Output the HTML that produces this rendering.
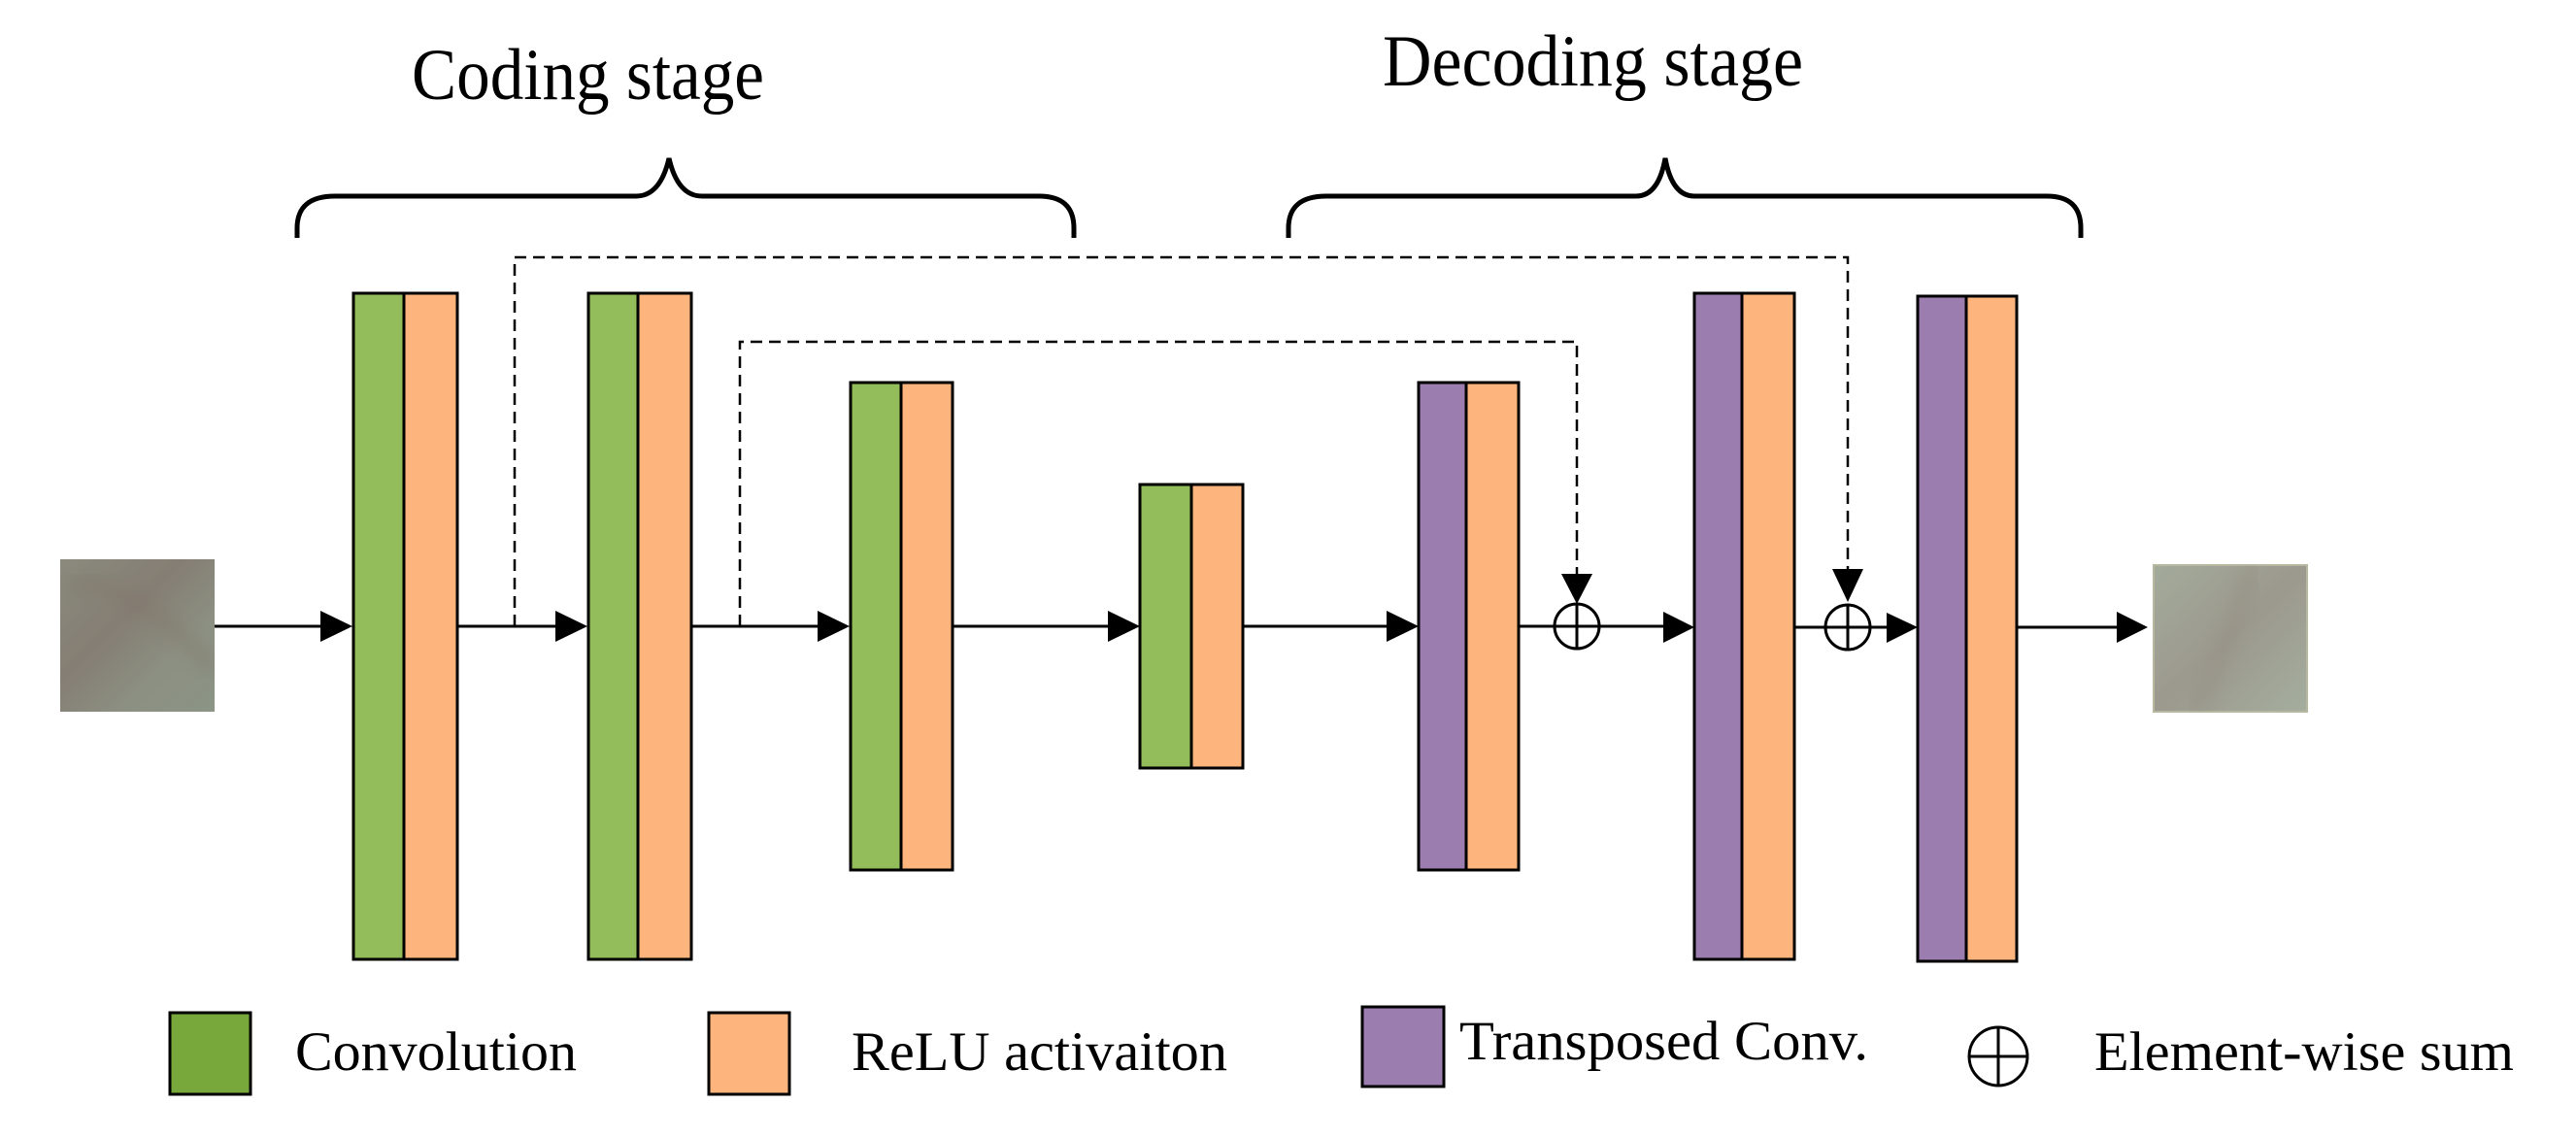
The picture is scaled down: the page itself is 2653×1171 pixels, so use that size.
<!DOCTYPE html>
<html><head><meta charset="utf-8"><style>
html,body{margin:0;padding:0;background:#fff;}
svg{display:block;}
text{font-family:"Liberation Serif",serif;fill:#000;}
</style></head><body>
<svg width="2653" height="1171" viewBox="0 0 2653 1171" xmlns="http://www.w3.org/2000/svg">
<defs>
<linearGradient id="gi" x1="0" y1="0" x2="1" y2="1">
<stop offset="0" stop-color="#8a8a7d"/><stop offset="0.4" stop-color="#857e74"/><stop offset="0.7" stop-color="#8c9082"/><stop offset="1" stop-color="#8b9485"/>
</linearGradient>
<linearGradient id="go" x1="0" y1="0" x2="1" y2="1">
<stop offset="0" stop-color="#a3ab9b"/><stop offset="0.5" stop-color="#9c998e"/><stop offset="1" stop-color="#a4ae9e"/>
</linearGradient>
<filter id="bl"><feGaussianBlur stdDeviation="8"/></filter>
<clipPath id="ci"><rect x="62" y="576" width="159" height="157"/></clipPath>
<clipPath id="co"><rect x="2218" y="582" width="158" height="151"/></clipPath>
</defs>

<text x="424" y="102" font-size="75" textLength="363" lengthAdjust="spacingAndGlyphs">Coding stage</text>
<text x="1424" y="88" font-size="75" textLength="433" lengthAdjust="spacingAndGlyphs">Decoding stage</text>

<g fill="none" stroke="#000" stroke-width="5">
<path d="M306 245 L306 235 Q306 202 345 202 L655 202 Q680 202 689 163 Q698 202 723 202 L1070 202 Q1106 202 1106 235 L1106 245"/>
<path d="M1327 245 L1327 235 Q1327 202 1366 202 L1685 202 Q1708 202 1715 163 Q1722 202 1745 202 L2108 202 Q2143 202 2143 235 L2143 245"/>
</g>

<g fill="none" stroke="#000" stroke-width="2.5" stroke-dasharray="12,7">
<path d="M530 645 L530 265 L1903 265 L1903 600"/>
<path d="M762 645 L762 352 L1624 352 L1624 600"/>
</g>
<polygon points="1608,591 1640,591 1624,622" fill="#000"/>
<polygon points="1887,586 1919,586 1903,620" fill="#000"/>

<g stroke="#000" stroke-width="3">
<line x1="221" y1="645" x2="340" y2="645"/>
<line x1="471" y1="645" x2="580" y2="645"/>
<line x1="712" y1="645" x2="850" y2="645"/>
<line x1="981" y1="645" x2="1150" y2="645"/>
<line x1="1280" y1="645" x2="1435" y2="645"/>
<line x1="1564" y1="645" x2="1720" y2="645"/>
<line x1="1848" y1="646" x2="1950" y2="646"/>
<line x1="2077" y1="646" x2="2185" y2="646"/>
</g>
<g fill="#000">
<polygon points="330,629 363,645 330,661"/>
<polygon points="572,629 605,645 572,661"/>
<polygon points="842,629 875,645 842,661"/>
<polygon points="1141,629 1174,645 1141,661"/>
<polygon points="1428,629 1461,645 1428,661"/>
<polygon points="1713,630 1745,646 1713,662"/>
<polygon points="1943,631 1975,646 1943,662"/>
<polygon points="2180,630 2212,646 2180,662"/>
</g>

<g fill="none" stroke="#000" stroke-width="3">
<circle cx="1624" cy="645" r="23"/>
<line x1="1624" y1="622" x2="1624" y2="668"/>
<circle cx="1903" cy="646" r="23"/>
<line x1="1903" y1="623" x2="1903" y2="669"/>
</g>

<g stroke="#000" stroke-width="3">
<rect x="364" y="302" width="52" height="686" fill="#92bd5a"/>
<rect x="416" y="302" width="55" height="686" fill="#fdb57d"/>
<rect x="606" y="302" width="51" height="686" fill="#92bd5a"/>
<rect x="657" y="302" width="55" height="686" fill="#fdb57d"/>
<rect x="876" y="394" width="52" height="502" fill="#92bd5a"/>
<rect x="928" y="394" width="53" height="502" fill="#fdb57d"/>
<rect x="1174" y="499" width="53" height="292" fill="#92bd5a"/>
<rect x="1227" y="499" width="53" height="292" fill="#fdb57d"/>
<rect x="1461" y="394" width="49" height="502" fill="#9b7db0"/>
<rect x="1510" y="394" width="54" height="502" fill="#fdb57d"/>
<rect x="1745" y="302" width="49" height="686" fill="#9b7db0"/>
<rect x="1794" y="302" width="54" height="686" fill="#fdb57d"/>
<rect x="1975" y="305" width="50" height="685" fill="#9b7db0"/>
<rect x="2025" y="305" width="52" height="685" fill="#fdb57d"/>
</g>

<rect x="62" y="576" width="159" height="157" fill="url(#gi)"/>
<g clip-path="url(#ci)"><path d="M70 600 Q140 600 221 690" stroke="#7f7268" stroke-width="18" fill="none" opacity="0.3" filter="url(#bl)"/></g>
<rect x="2218" y="582" width="158" height="151" fill="url(#go)" stroke="#b8b8a0" stroke-width="2"/>
<g clip-path="url(#co)"><path d="M2320 582 Q2290 680 2260 733" stroke="#8f867c" stroke-width="18" fill="none" opacity="0.3" filter="url(#bl)"/></g>

<g stroke="#000" stroke-width="3">
<rect x="175" y="1043" width="83" height="84" fill="#78a73b"/>
<rect x="730" y="1043" width="83" height="84" fill="#fdb57d"/>
<rect x="1403" y="1037" width="84" height="82" fill="#9b7db0"/>
<circle cx="2058" cy="1088" r="30" fill="none"/>
<line x1="2028" y1="1088" x2="2088" y2="1088"/>
<line x1="2058" y1="1058" x2="2058" y2="1118"/>
</g>
<text x="304" y="1102" font-size="57" textLength="290" lengthAdjust="spacingAndGlyphs">Convolution</text>
<text x="877" y="1102" font-size="57" textLength="387" lengthAdjust="spacingAndGlyphs">ReLU activaiton</text>
<text x="1503" y="1091" font-size="57" textLength="421" lengthAdjust="spacingAndGlyphs">Transposed Conv.</text>
<text x="2157" y="1102" font-size="57" textLength="432" lengthAdjust="spacingAndGlyphs">Element-wise sum</text>
</svg>
</body></html>
